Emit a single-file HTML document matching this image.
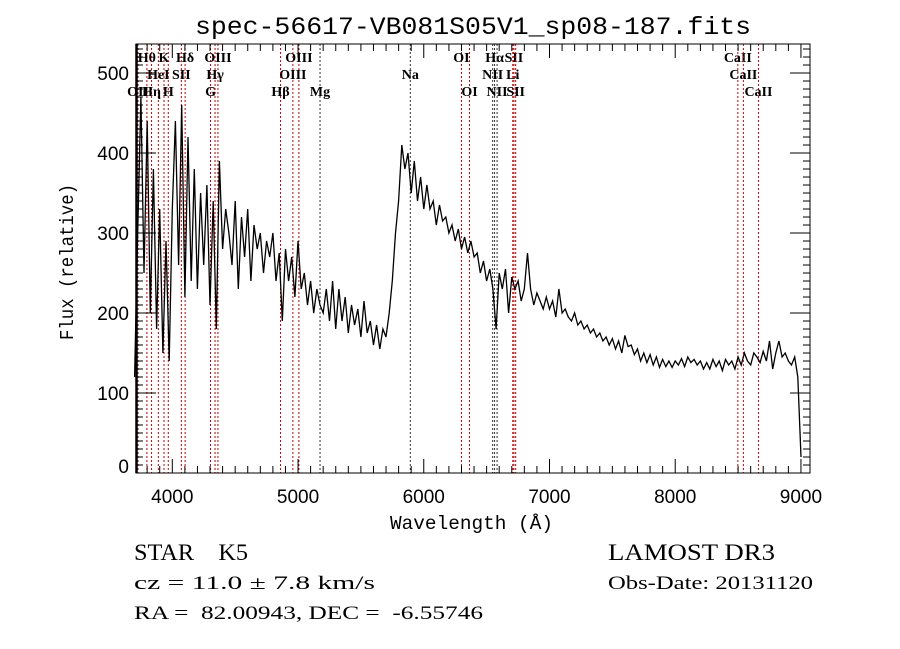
<!DOCTYPE html>
<html><head><meta charset="utf-8"><style>
html,body{margin:0;padding:0;background:#fff;}
svg{display:block;}
text{font-family:"Liberation Sans",sans-serif;fill:#000;white-space:pre;}
.serif{font-family:"Liberation Serif",serif;}
.mono{font-family:"Liberation Mono",monospace;}
</style></head><body>
<svg id="chart" width="900" height="649" viewBox="0 0 900 649" xmlns="http://www.w3.org/2000/svg" xml:space="preserve">
<rect width="900" height="649" fill="#fff"/>
<text class="mono" x="195" y="34" font-size="25" textLength="556" lengthAdjust="spacingAndGlyphs">spec-56617-VB081S05V1_sp08-187.fits</text>
<g id="lines"></g>
<g id="ticks"></g>
<path id="spec" fill="none" stroke="#000" stroke-width="1.3"/>
<rect x="136" y="44" width="674" height="429" fill="none" stroke="#000" stroke-width="1"/>
<line x1="136.5" y1="44" x2="136.5" y2="473" stroke="#000" stroke-width="2.5"/>
<text class="mono" x="390" y="529" font-size="19" textLength="163" lengthAdjust="spacingAndGlyphs">Wavelength (Å)</text>
<text class="mono" transform="translate(73,340) rotate(-90)" font-size="19" textLength="156" lengthAdjust="spacingAndGlyphs">Flux (relative)</text>
<text class="serif" x="134" y="560" font-size="23" textLength="114" lengthAdjust="spacingAndGlyphs">STAR    K5</text>
<text class="serif" x="608" y="560" font-size="23" textLength="167" lengthAdjust="spacingAndGlyphs">LAMOST DR3</text>
<text class="serif" x="134" y="589" font-size="19" textLength="241" lengthAdjust="spacingAndGlyphs">cz = 11.0 ± 7.8 km/s</text>
<text class="serif" x="608" y="589" font-size="19" textLength="205" lengthAdjust="spacingAndGlyphs">Obs-Date: 20131120</text>
<text class="serif" x="134" y="619" font-size="19" textLength="349" lengthAdjust="spacingAndGlyphs">RA =  82.00943, DEC =  -6.55746</text>
</svg>
<script>
const fluxStart = 3700;
const fluxStep = 25;
const flux = [120,300,470,250,440,200,380,180,330,150,290,140,330,440,260,460,220,420,240,380,230,350,260,360,210,340,180,390,280,330,300,260,340,230,320,270,330,240,310,280,300,250,290,270,300,240,275,190,280,240,270,220,290,230,250,210,240,200,230,210,200,230,190,240,180,230,190,220,175,210,185,205,170,215,175,190,160,185,155,180,170,200,240,300,340,410,380,400,350,390,340,370,330,360,330,340,310,335,315,320,300,310,290,305,280,295,275,290,270,275,250,265,240,255,230,180,250,230,255,200,245,230,240,215,230,275,230,210,225,215,205,220,205,215,195,230,200,205,195,190,200,185,190,180,185,175,180,170,175,165,170,160,168,155,165,150,172,158,160,148,155,140,150,138,148,135,145,132,142,133,140,132,140,135,143,133,145,138,142,135,140,130,138,130,142,133,140,128,142,135,140,130,145,135,150,140,135,150,145,138,152,140,165,130,150,165,145,150,140,135,145,120,20];
const xTickValues = [4000,5000,6000,7000,8000,9000];
const yTickValues = [0,100,200,300,400,500];
const lineNames = ["Hθ","K","Hδ","OIII","OIII","OI","Hα","SII","CaII","HeI","SII","Hγ","OIII","Na","NII","Li","CaII","OII","Hη","H","G","Hβ","Mg","OI","NII","SII","CaII"];
const lineWaves = [3798,3934,4102,4363,5007,6300,6563,6717,8498,3889,4072,4340,4959,5893,6548,6708,8542,3727,3835,3968,4304,4861,5175,6364,6583,6731,8662];
const lineRows = [0,0,0,0,0,0,0,0,0,1,1,1,1,1,1,1,1,2,2,2,2,2,2,2,2,2,2];
const lineRed = [1,1,1,1,1,1,0,1,1,1,1,1,1,0,0,1,1,1,1,1,1,1,0,1,0,1,1];

const NS="http://www.w3.org/2000/svg";
const X0=136,X1=810,Y0=44,Y1=473;
function xs(w){return 172.3+(w-4000)*0.12573;}
function ys(f){return 473-f*0.8;}
function mk(tag,attrs,parent){const e=document.createElementNS(NS,tag);for(const k in attrs)e.setAttribute(k,attrs[k]);parent.appendChild(e);return e;}

const gl=document.getElementById('lines');
for(let i=0;i<lineWaves.length;i++){
  const x=xs(lineWaves[i]);
  const l=mk('line',{x1:x,y1:Y0,x2:x,y2:Y1,stroke:lineRed[i]?'#c00000':'#333','stroke-width':1,'stroke-dasharray':'2,2'},gl);
  
  
  const t=mk('text',{x:x,y:62+lineRows[i]*17,'font-size':14,'text-anchor':'middle','font-weight':'bold',class:'serif'},gl);
  t.textContent=lineNames[i];
  
  
}

const gt=document.getElementById('ticks');
for(let w=3800;w<=9100;w+=100){
  const x=xs(w); if(x<X0||x>X1)continue;
  const major=(w%1000===0);
  const len=major?14:7;
  mk('line',{x1:x,y1:Y1,x2:x,y2:Y1-len,stroke:'#000'},gt);
  mk('line',{x1:x,y1:Y0,x2:x,y2:Y0+len,stroke:'#000'},gt);
}
xTickValues.forEach(v=>{
  const t=mk('text',{x:xs(v),y:503,'font-size':19,'text-anchor':'middle'},gt);
  t.textContent=v;
  
  
});
for(let f=0;f<=530;f+=10){
  const y=ys(f); if(y<Y0)continue;
  const len=(f%100===0)?20:7;
  mk('line',{x1:X0,y1:y,x2:X0+len,y2:y,stroke:'#000'},gt);
  mk('line',{x1:X1,y1:y,x2:X1-len,y2:y,stroke:'#000'},gt);
}
yTickValues.forEach(v=>{
  const t=mk('text',{x:129,y:ys(v)+7-(v===0?7:0),'font-size':19,'text-anchor':'end'},gt);
  t.textContent=v;
  
  
});

let d='';
flux.forEach((f,i)=>{d+=(i?'L':'M')+xs(fluxStart+i*fluxStep).toFixed(1)+','+ys(f).toFixed(1);});
document.getElementById('spec').setAttribute('d',d);
</script>
</body></html>
